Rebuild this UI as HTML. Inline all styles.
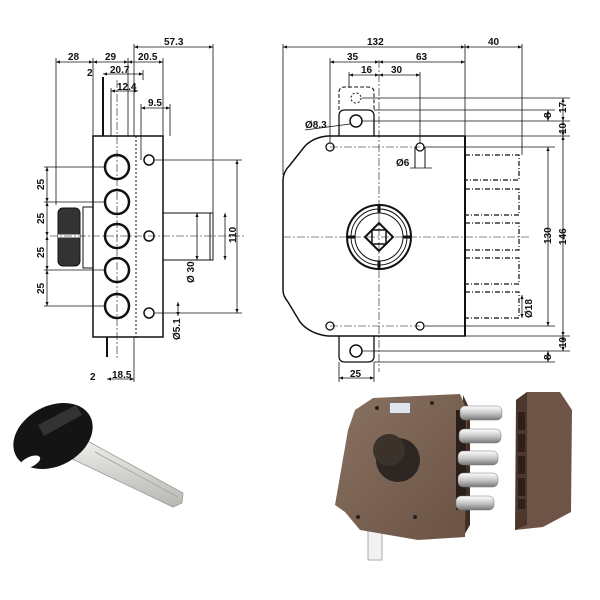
<!DOCTYPE html>
<html><head><meta charset="utf-8"><style>
html,body{margin:0;padding:0;background:#fff}
svg{display:block}
text{font-family:"Liberation Sans",sans-serif;font-size:10px;font-weight:bold;fill:#111}
</style></head><body>
<svg width="600" height="600" viewBox="0 0 600 600">
<defs>
<marker id="a" viewBox="0 0 10 10" refX="10" refY="5" markerWidth="5" markerHeight="5" orient="auto-start-reverse"><path d="M0,1L10,5L0,9z" fill="#111"/></marker>
<linearGradient id="br" x1="0" y1="0" x2="1" y2="1"><stop offset="0" stop-color="#8a7262"/><stop offset="1" stop-color="#6a5244"/></linearGradient>
<linearGradient id="st" x1="0" y1="0" x2="0" y2="1"><stop offset="0" stop-color="#fff"/><stop offset=".5" stop-color="#c8c8c8"/><stop offset="1" stop-color="#777"/></linearGradient>
<linearGradient id="bl" x1="0" y1="0" x2="0" y2="1"><stop offset="0" stop-color="#f0f0ec"/><stop offset="1" stop-color="#b8b8b2"/></linearGradient>
</defs>
<g stroke="#111" fill="none" stroke-width="1">
<!-- LEFT VIEW -->
<rect x="93" y="136" width="70" height="201" stroke-width="1.5"/>
<line x1="136" y1="136" x2="136" y2="337" stroke-dasharray="2,2"/>
<line x1="117" y1="80" x2="117" y2="360" stroke-dasharray="8,2,2,2" stroke-width=".6"/>
<g stroke-width="2.5"><circle cx="117" cy="167" r="12"/><circle cx="117" cy="202" r="12"/><circle cx="117" cy="236" r="12"/><circle cx="117" cy="270" r="12"/><circle cx="117" cy="306" r="12"/></g>
<g stroke-width="1.5"><circle cx="149" cy="160" r="5"/><circle cx="149" cy="236" r="5"/><circle cx="149" cy="313" r="5"/></g>
<rect x="163" y="213" width="50" height="47"/>
<line x1="210" y1="213" x2="210" y2="260"/>
<rect x="83" y="207" width="10" height="61"/>
<rect x="58" y="208" width="22" height="58" rx="5" fill="#333"/>
<line x1="58" y1="236" x2="80" y2="236" stroke="#fff" stroke-width="3"/>
<line x1="103" y1="77" x2="103" y2="136" stroke-width="2"/>
<line x1="107" y1="337" x2="107" y2="357" stroke-width="2"/>
<line x1="50" y1="236" x2="245" y2="236" stroke-dasharray="8,2,2,2" stroke-width=".6"/>
<g stroke-width=".8">
<line x1="56" y1="58" x2="56" y2="205"/><line x1="93" y1="58" x2="93" y2="136"/><line x1="128" y1="58" x2="128" y2="136"/>
<line x1="134" y1="44" x2="134" y2="136"/><line x1="163" y1="58" x2="163" y2="136"/><line x1="213" y1="44" x2="213" y2="213"/>
<line x1="143" y1="70" x2="143" y2="80"/><line x1="141" y1="104" x2="141" y2="160"/><line x1="170" y1="104" x2="170" y2="136"/>
<line x1="111" y1="88" x2="111" y2="136"/>
<line x1="134" y1="337" x2="134" y2="382"/>
<line x1="44" y1="167" x2="105" y2="167"/><line x1="44" y1="202" x2="105" y2="202"/><line x1="44" y1="270" x2="105" y2="270"/><line x1="44" y1="306" x2="105" y2="306"/>
<line x1="155" y1="160" x2="242" y2="160"/><line x1="155" y1="313" x2="242" y2="313"/>
</g>
<g stroke-width=".8" marker-start="url(#a)" marker-end="url(#a)">
<line x1="134" y1="47" x2="213" y2="47"/>
<line x1="56" y1="62" x2="93" y2="62"/><line x1="93" y1="62" x2="128" y2="62"/><line x1="128" y1="62" x2="163" y2="62"/>
<line x1="103" y1="74" x2="143" y2="74"/><line x1="111" y1="91" x2="138" y2="91"/><line x1="141" y1="108" x2="170" y2="108"/>
<line x1="47" y1="167" x2="47" y2="202"/><line x1="47" y1="202" x2="47" y2="236"/><line x1="47" y1="236" x2="47" y2="270"/><line x1="47" y1="270" x2="47" y2="306"/>
<line x1="237" y1="160" x2="237" y2="313"/>
<line x1="197" y1="213" x2="197" y2="260"/><line x1="225" y1="213" x2="225" y2="260"/>
<line x1="107" y1="379" x2="134" y2="379"/>
<line x1="178" y1="302" x2="178" y2="316"/>
</g>
<!-- RIGHT VIEW -->
<path d="M328,136 L465,136 L465,336 L328,336 Q310,334 300,322 L288,302 Q283,296 283,290 L283,180 Q283,172 290,165 L305,146 Q314,137 328,136Z" stroke-width="1.5"/>
<line x1="465" y1="136" x2="465" y2="336" stroke-width="2"/>
<g stroke-dasharray="5,2,1,2" stroke-width="1.2">
<path d="M465,155 H519 V180 H465"/><path d="M465,189 H519 V215 H465"/><path d="M465,223 H519 V250 H465"/><path d="M465,258 H519 V284 H465"/><path d="M465,292 H519 V318 H465"/>
</g>
<path d="M339,136 V116 Q339,110 345,110 H368 Q374,110 374,116 V136" stroke-width="1.3"/>
<path d="M339,110 V92 Q339,87 345,87 H368 Q374,87 374,92 V110" stroke-dasharray="4,2"/>
<circle cx="356" cy="98" r="5" stroke-dasharray="2,2"/>
<circle cx="356" cy="121" r="6" stroke-width="1.5"/>
<path d="M339,336 V356 Q339,362 345,362 H368 Q374,362 374,356 V336" stroke-width="1.3"/>
<circle cx="356" cy="351" r="6" stroke-width="1.5"/>
<g stroke-width="1.3"><circle cx="330" cy="147" r="4"/><circle cx="420" cy="147" r="4"/><circle cx="330" cy="326" r="4"/><circle cx="420" cy="326" r="4"/></g>
<line x1="415" y1="147" x2="415" y2="168"/><line x1="425" y1="147" x2="425" y2="168"/>
<circle cx="379" cy="237" r="32" stroke-width="2"/><circle cx="379" cy="237" r="28"/><circle cx="379" cy="237" r="24"/>
<path d="M379,223 L393,237 L379,251 L365,237Z" stroke-width="2"/>
<rect x="372" y="230" width="14" height="14" stroke-width="1.5"/>
<g stroke-width="3"><line x1="379" y1="205" x2="379" y2="213"/><line x1="379" y1="261" x2="379" y2="269"/><line x1="347" y1="237" x2="355" y2="237"/><line x1="403" y1="237" x2="411" y2="237"/></g>
<g stroke-dasharray="8,2,2,2" stroke-width=".6">
<line x1="379" y1="60" x2="379" y2="372"/><line x1="283" y1="237" x2="530" y2="237"/>
<line x1="330" y1="147" x2="420" y2="147"/><line x1="330" y1="326" x2="420" y2="326"/>
</g>
<g stroke-width=".8">
<line x1="283" y1="44" x2="283" y2="175"/><line x1="465" y1="44" x2="465" y2="136"/><line x1="522" y1="44" x2="522" y2="155"/>
<line x1="330" y1="58" x2="330" y2="143"/><line x1="349" y1="72" x2="349" y2="88"/><line x1="420" y1="72" x2="420" y2="143"/>
<line x1="362" y1="98" x2="570" y2="98"/><line x1="374" y1="110" x2="555" y2="110"/><line x1="362" y1="121" x2="570" y2="121"/>
<line x1="465" y1="136" x2="570" y2="136"/><line x1="425" y1="147" x2="555" y2="147"/><line x1="425" y1="326" x2="555" y2="326"/>
<line x1="374" y1="336" x2="570" y2="336"/><line x1="362" y1="351" x2="570" y2="351"/><line x1="374" y1="362" x2="555" y2="362"/>
<line x1="339" y1="362" x2="339" y2="382"/><line x1="374" y1="362" x2="374" y2="382"/>
<line x1="305" y1="130" x2="350" y2="124"/>
<line x1="410" y1="168" x2="432" y2="168"/>
</g>
<g stroke-width=".8" marker-start="url(#a)" marker-end="url(#a)">
<line x1="283" y1="47" x2="465" y2="47"/><line x1="465" y1="47" x2="522" y2="47"/>
<line x1="330" y1="62" x2="379" y2="62"/><line x1="379" y1="62" x2="465" y2="62"/>
<line x1="349" y1="75" x2="379" y2="75"/><line x1="379" y1="75" x2="420" y2="75"/>
<line x1="548" y1="147" x2="548" y2="326"/><line x1="563" y1="136" x2="563" y2="336"/>
<line x1="563" y1="98" x2="563" y2="121"/><line x1="548" y1="110" x2="548" y2="121"/><line x1="563" y1="121" x2="563" y2="136"/>
<line x1="563" y1="336" x2="563" y2="351"/><line x1="548" y1="351" x2="548" y2="362"/>
<line x1="339" y1="378" x2="374" y2="378"/>
<line x1="522" y1="295" x2="522" y2="318"/>
</g>
</g>
<text x="68" y="60">28</text><text x="105" y="60">29</text><text x="138" y="60">20.5</text><text x="164" y="45">57.3</text>
<text x="87" y="76">2</text><text x="110" y="73">20.7</text><text x="117" y="90">12.4</text><text x="148" y="106">9.5</text>
<text x="90" y="380">2</text><text x="112" y="378">18.5</text>
<g font-size="9">
<text transform="translate(44,190) rotate(-90)">25</text><text transform="translate(44,224) rotate(-90)">25</text>
<text transform="translate(44,258) rotate(-90)">25</text><text transform="translate(44,294) rotate(-90)">25</text>
<text transform="translate(236,243) rotate(-90)">110</text>
<text transform="translate(194,283) rotate(-90)">Ø 30</text>
<text transform="translate(180,340) rotate(-90)">Ø5.1</text>
<text transform="translate(551,244) rotate(-90)">130</text><text transform="translate(566,245) rotate(-90)">146</text>
<text transform="translate(566,113) rotate(-90)">17</text><text transform="translate(551,118) rotate(-90)">8</text>
<text transform="translate(566,134) rotate(-90)">10</text><text transform="translate(566,348) rotate(-90)">10</text>
<text transform="translate(551,360) rotate(-90)">8</text>
<text transform="translate(532,318) rotate(-90)">Ø18</text>
</g>
<text x="367" y="45">132</text><text x="488" y="45">40</text>
<text x="347" y="60">35</text><text x="416" y="60">63</text>
<text x="361" y="73">16</text><text x="391" y="73">30</text>
<text x="305" y="128">Ø8.3</text><text x="396" y="166">Ø6</text>
<text x="350" y="377">25</text>
<!-- KEY -->
<path d="M82,438 L183,493 L182,503 L173,507 L68,457 Z" fill="url(#bl)" stroke="#999" stroke-width=".8"/>
<line x1="95" y1="452" x2="178" y2="497" stroke="#aaa"/>
<ellipse cx="53" cy="436" rx="42" ry="30" transform="rotate(-28 53 436)" fill="#141414"/>
<ellipse cx="30" cy="462" rx="11" ry="5" transform="rotate(-25 30 462)" fill="#fff"/>
<path d="M38,425 L76,405 L82,415 L44,436Z" fill="#333"/>
<!-- STRIKE PLATE -->
<path d="M527,392 L560,392 L572,410 L571,512 L543,527 L515,530 L516,520 L516,400 Z" fill="#6e5446"/>
<path d="M516,400 L527,392 L527,525 L515,530 Z" fill="#4b372c"/>
<g fill="#2e2019"><rect x="518" y="412" width="7" height="18"/><rect x="518" y="434" width="7" height="18"/><rect x="518" y="456" width="7" height="18"/><rect x="518" y="478" width="7" height="18"/><rect x="518" y="499" width="7" height="10"/></g>
<!-- LOCK -->
<rect x="368" y="520" width="14" height="40" fill="#f2f2f2" stroke="#aaa"/>
<path d="M463,395 L470,410 L470,525 L463,537 Z" fill="#3e2e26"/>
<path d="M373,398 L460,394 L467,410 L465,537 L418,540 L360,530 L345,512 L335,505 L348,430 L355,410 Z" fill="url(#br)"/>
<g fill="#2a1e18"><rect x="456" y="410" width="10" height="100"/></g>
<g fill="url(#st)" stroke="#777" stroke-width=".5">
<rect x="460" y="406" width="42" height="14" rx="5"/><rect x="459" y="429" width="42" height="14" rx="5"/><rect x="458" y="451" width="40" height="14" rx="5"/><rect x="458" y="473" width="40" height="14" rx="5"/><rect x="456" y="496" width="38" height="14" rx="5"/>
</g>
<rect x="390" y="403" width="20" height="10" fill="#dde6ee"/>
<circle cx="398" cy="460" r="22" fill="#2e2622"/><circle cx="389" cy="450" r="16" fill="#3c322c"/>
<g fill="#222"><circle cx="377" cy="408" r="2"/><circle cx="432" cy="403" r="2"/><circle cx="358" cy="517" r="2"/><circle cx="415" cy="517" r="2"/></g>
</svg>
</body></html>
